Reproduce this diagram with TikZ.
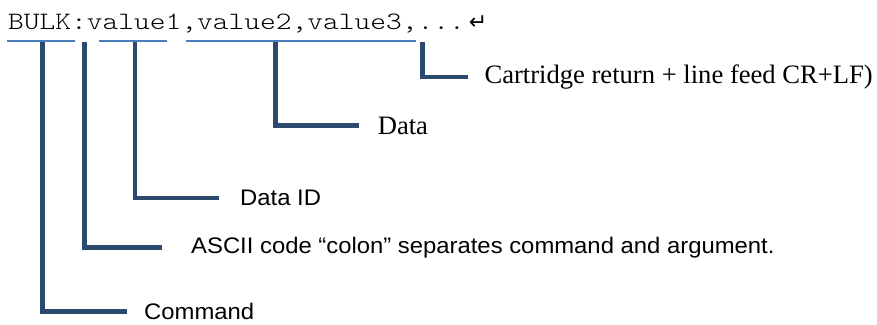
\documentclass[tikz,border=0pt]{standalone}
\usepackage{fontspec}
\newfontfamily\monof[FakeStretch=1.2]{lmmonolt10-regular.otf}
\newfontfamily\sansf[FakeStretch=1.06]{Liberation Sans}
\newfontfamily\timesf{Liberation Serif}
\newfontfamily\symf{DejaVu Sans}
\usepackage{tikz}
\definecolor{legblue}{HTML}{2C4A6E}
\definecolor{ulblue}{HTML}{4A7EBB}

\begin{document}
\begin{tikzpicture}[x=1pt,y=-1pt,
    leg/.style={draw=legblue,line width=4.5pt},
    uline/.style={draw=ulblue,line width=2pt},
    lbl/.style={anchor=west,inner ysep=0pt,font={\sansf\fontsize{22.5}{26}\selectfont}},
    tlbl/.style={lbl,font={\timesf\fontsize{26.6}{30}\selectfont}}]
  \useasboundingbox (0,0) rectangle (877,324);
  \node (bulk) [anchor=base west,inner sep=0pt,font={\monof\fontsize{25}{30}\selectfont}] at (8,29)
    {BULK:value1,value2,value3,...\hspace{4pt}{\symf\fontsize{22}{24}\selectfont ↵}};
  \draw[uline] (7,41) -- (75,41) (99,41) -- (167,41) (186,41) -- (416,41);
  \coordinate (t-cmd) at (42.5,42);
  \coordinate (t-colon) at (84.5,42);
  \coordinate (t-id) at (135,42);
  \coordinate (t-data) at (275.5,42);
  \coordinate (t-crlf) at (422.5,42);
  \node (cmd) [lbl,inner xsep=17pt] at (127,311.5) {Command};
  \node (colon) [lbl,inner xsep=29pt] at (162,247.5) {ASCII code “colon” separates command and argument.};
  \node (id) [lbl,inner xsep=21pt] at (219,198) {Data ID};
  \node (data) [tlbl,inner xsep=18.6pt] at (359,125.5) {Data};
  \node (crlf) [tlbl,inner xsep=16.3pt] at (468,77) {Cartridge return + line feed CR+LF)};
  \path[leg]
    (t-cmd) |- (cmd)
    (t-colon) |- (colon)
    (t-id) |- (id)
    (t-data) |- (data)
    (t-crlf) |- (crlf);
\end{tikzpicture}
\end{document}
